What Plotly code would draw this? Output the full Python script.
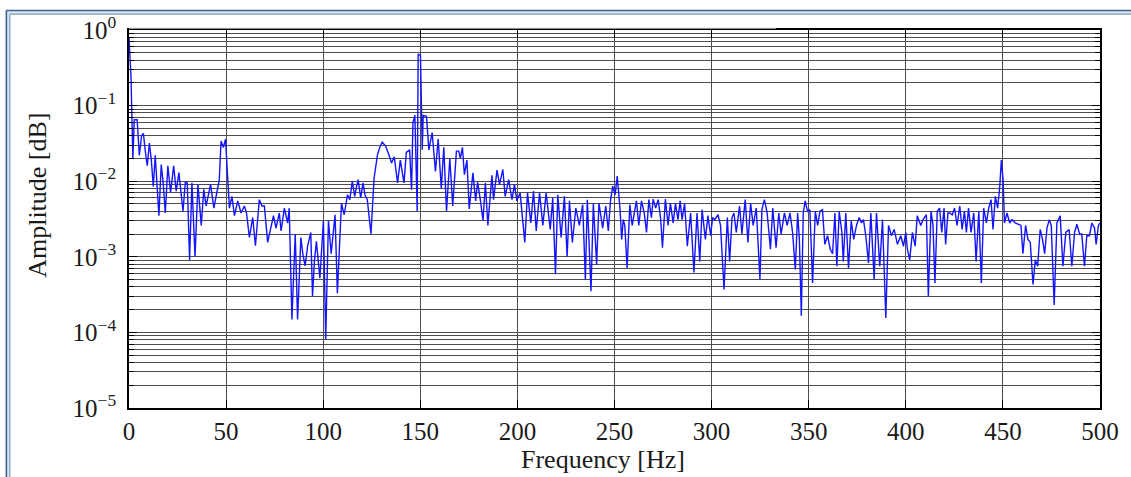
import plotly.graph_objects as go

# ---------------- data ----------------
freq_hz = [
    0, 1, 2, 2.7, 4.2, 5.3, 6.5, 7.4, 8.4, 9.4, 10.5, 11.5, 12.5, 13.5, 15.4, 16.6, 17.6, 18.7,
    20.0, 21.4, 23.0, 24.3, 25.7, 27.8, 29.0, 30.0, 31.2, 32.4, 34.0, 35.5, 37.2, 38.5, 39.7,
    41.0, 42.0, 43.7, 45.4, 46.5, 47.4, 48.6, 49.7, 50.7, 51.7, 53.0, 54.3, 56.0, 57.7, 59.4,
    60.5, 62.0, 63.7, 65.1, 67.1, 68.5, 69.7, 71.4, 73.1, 74.4, 75.7, 77.4, 78.3, 80.0, 81.7, 82.5,
    83.9, 85.6, 86.8, 88.5, 89.5, 90.7, 92.0, 93.6, 94.5, 95.5, 96.5, 98.3, 100.1, 101.3, 102.7,
    104.1, 106.1, 107.3, 109.4, 110.8, 112.5, 113.7, 115.0, 116.2, 117.2, 118.0, 119.3, 120.5,
    121.5, 122.7, 124.6, 126.2, 127.9, 129.1, 130.4, 132.2, 133.9, 135.2, 136.6, 138.3, 139.7,
    141.6, 142.8, 144.5, 145.5, 146.2, 147.2, 148.4, 148.9, 150.1, 151.0, 151.5, 153.2, 154.4,
    156.1, 157.8, 159.2, 160.8, 162.1, 163.5, 165.2, 166.7, 168.6,
    169.8, 170.6, 171.7, 172.7, 174.0, 175.2, 177.1, 178.5, 179.5, 180.9, 182.3, 183.5, 184.8,
    186.9, 187.7, 189.5, 190.8, 192.5, 193.7, 195.5, 197.2, 198.5, 199.7, 201.4, 203.8, 205.2,
    206.9, 208.3, 209.7, 211.4, 213.1, 214.8, 216.9, 218.2, 219.6, 220.8, 222.5, 224.2, 225.6,
    226.8, 228.3, 230.1, 231.9, 233.6, 235.0, 236.0, 237.9, 239.1, 240.8, 242.0, 243.9, 245.5,
    246.8, 248.0, 249.1, 250.3, 251.4, 252.8, 253.7,
    254.5, 255.3, 256.5, 257.9, 259.1, 260.1, 261.3, 262.5, 263.9, 265.3, 266.5, 267.7, 269.0,
    269.9, 271.2, 272.5, 273.8, 274.7, 276.2, 277.6, 278.8, 280.2, 281.4, 282.7, 283.8, 284.8,
    286.1, 287.5, 289.2, 290.9, 292.5, 293.9, 295.1, 296.8, 298.1, 299.5, 300.5, 301.6, 303.3,
    304.6, 306.4, 308.1, 309.3, 310.5, 311.5, 312.7, 314.4, 315.6, 317.3, 318.7, 320.1, 321.4,
    323.0, 324.9, 325.9, 327.2, 328.6, 330.3, 331.5, 333.2, 334.6, 335.8, 337.5, 338.9,
    340.4, 341.7, 343.1, 344.3, 345.2, 346.2, 347.2, 348.2, 349.4, 350.6, 352.0, 353.4, 354.6,
    355.8, 357.1, 358.3, 359.7, 361.1, 362.3, 363.5, 364.5, 365.7, 367.1, 367.8, 369.1, 370.5,
    371.9, 373.2, 374.6, 376.0, 377.2, 378.2, 379.4, 380.8, 382.0, 383.7, 384.9, 386.6, 388.0,
    389.7, 391.1, 392.6, 394.0, 395.7, 397.4, 398.8, 400.0, 400.8, 402.0, 403.4, 404.8, 405.9,
    407.7, 408.9, 410.6, 411.6, 413.0, 414.0, 415.0, 416.2, 417.4, 418.5, 419.7, 420.5, 421.7,
    422.7, 423.9, 425.1, 426.4, 427.8, 429.0, 430.2, 431.2, 432.3, 433.6, 435.0, 436.2, 437.6,
    438.9, 440.1, 441.5, 442.7, 443.9, 444.9, 446.1, 447.3, 448.4, 449.2, 450.1, 450.8, 452.1,
    453.5, 454.7, 456.4, 458.1, 459.3, 460.3, 461.7, 462.9, 464.1, 465.5, 466.7, 467.9, 469.2,
    470.4, 471.5, 472.7, 473.9, 474.9, 476.4, 477.8, 479.5, 480.9, 482.4, 484.1, 485.5, 486.9,
    488.1, 489.5, 490.6, 492.0, 493.2, 494.6, 495.8, 497.2, 498.0, 499.2, 500.0,
]

amplitude = [
    0.8, 0.25, 0.020, 0.065, 0.065, 0.022, 0.040, 0.043, 0.025, 0.016, 0.032, 0.019, 0.0085, 0.022, 0.0035, 0.0166, 0.0095, 0.0038,
    0.016, 0.0071, 0.016, 0.0074, 0.013, 0.0040, 0.0097, 0.0095, 0.00091, 0.0095, 0.0010, 0.0091, 0.0026, 0.0078, 0.0047,
    0.0070, 0.0091, 0.0044, 0.0078, 0.0105, 0.034, 0.028, 0.036, 0.0117, 0.0044, 0.0063, 0.0035, 0.0055, 0.0038, 0.0047,
    0.0038, 0.0018, 0.0033, 0.0014, 0.0057, 0.0047, 0.0047, 0.00155, 0.0024, 0.0035, 0.0024, 0.0038, 0.0022, 0.0044, 0.0028, 0.0044,
    0.000148, 0.0020, 0.000148, 0.0018, 0.0011, 0.00076, 0.0014, 0.0021, 0.00030, 0.0009, 0.0016, 0.00052, 0.0030, 0.000081, 0.0030,
    0.0011, 0.0036, 0.00033, 0.0051, 0.0036, 0.0066, 0.0057, 0.0100, 0.0063, 0.0086, 0.0105, 0.0060, 0.0095,
    0.0066, 0.0057, 0.0020, 0.011, 0.022, 0.028, 0.033, 0.029, 0.022, 0.0174, 0.021, 0.0095, 0.019,
    0.0095, 0.024, 0.026, 0.0077, 0.059, 0.075, 0.0040, 0.48, 0.46, 0.026, 0.074, 0.072, 0.026,
    0.044, 0.0135, 0.036, 0.0081, 0.028, 0.0040, 0.020, 0.0047, 0.025,
    0.025, 0.020, 0.028, 0.0122, 0.019, 0.0043, 0.0129, 0.0055, 0.0097, 0.0057, 0.0030, 0.0095, 0.0026,
    0.012, 0.0057, 0.014, 0.0091, 0.0143, 0.0063, 0.0105, 0.0057, 0.0091, 0.0055, 0.0070, 0.00155, 0.0070,
    0.0028, 0.0074, 0.0022, 0.0070, 0.0026, 0.0070, 0.0023, 0.0060, 0.00059, 0.0066, 0.0018, 0.0063, 0.0010,
    0.0055, 0.00155, 0.0044, 0.0026, 0.0049, 0.00050, 0.0057, 0.00035, 0.0051, 0.00079, 0.0051, 0.0024, 0.0047,
    0.0022, 0.0057, 0.0086, 0.0066, 0.0117, 0.0044, 0.0017,
    0.0031, 0.0026, 0.00071, 0.0049, 0.0026, 0.0035, 0.0055, 0.0026, 0.0055, 0.0038, 0.0021, 0.0057, 0.0033,
    0.0058, 0.0044, 0.0057, 0.0031, 0.00132, 0.0058, 0.0026, 0.0051, 0.0028, 0.0051, 0.0031, 0.0055, 0.0031,
    0.0051, 0.00138, 0.0038, 0.00062, 0.0038, 0.00087, 0.0042, 0.0017, 0.0035, 0.0019, 0.0033, 0.0031, 0.0036,
    0.0026, 0.00037, 0.0033, 0.00087, 0.0033, 0.0038, 0.0021, 0.0047, 0.0020, 0.0057, 0.00155, 0.0051, 0.0026,
    0.0044, 0.00050, 0.0042, 0.0057, 0.0038, 0.00126, 0.0044, 0.00132, 0.0038, 0.0020, 0.0038, 0.0026,
    0.0038, 0.0021, 0.00068, 0.0038, 0.0017, 0.000166, 0.0038, 0.0055, 0.0040, 0.0042, 0.00045, 0.0040, 0.0026,
    0.0040, 0.0042, 0.00146, 0.0019, 0.00126, 0.0011, 0.0038, 0.00075, 0.0040, 0.0021, 0.00087, 0.0038, 0.00071,
    0.0030, 0.0017, 0.0026, 0.0033, 0.0028, 0.0031, 0.0019, 0.00083, 0.0038, 0.00050, 0.0038, 0.00075, 0.0031,
    0.000155, 0.0026, 0.0019, 0.0023, 0.00146, 0.0019, 0.00138, 0.0021, 0.00126, 0.00091, 0.0021, 0.00138, 0.0035,
    0.0026, 0.0031, 0.0036, 0.00030, 0.0040, 0.0026, 0.00045, 0.0040, 0.0044, 0.0021, 0.0044, 0.00146, 0.0038,
    0.0038, 0.0036, 0.0044, 0.0026, 0.0047, 0.0023, 0.0040, 0.0021, 0.0044, 0.0021, 0.0038, 0.00087, 0.0040,
    0.00045, 0.0044, 0.0028, 0.0044, 0.0057, 0.0023, 0.0063, 0.0044, 0.0086, 0.019, 0.0105, 0.0028, 0.0038,
    0.0028, 0.0031, 0.0028, 0.0027, 0.0026, 0.0011, 0.0026, 0.0017, 0.00155, 0.00043, 0.00091, 0.00075, 0.0023,
    0.0017, 0.0011, 0.0024, 0.0031, 0.0026, 0.00023, 0.0028, 0.0035, 0.00075, 0.0021, 0.0023, 0.00075, 0.0021,
    0.0027, 0.0020, 0.0020, 0.00075, 0.0019, 0.0019, 0.0028, 0.0024, 0.00146, 0.0026, 0.0028,
]

x_tick_values = [0, 50, 100, 150, 200, 250, 300, 350, 400, 450, 500]
y_tick_values = [1e-5, 1e-4, 1e-3, 1e-2, 1e-1, 1e0]
y_tick_labels = ["10<sup>\u22125</sup>", "10<sup>\u22124</sup>", "10<sup>\u22123</sup>",
                 "10<sup>\u22122</sup>", "10<sup>\u22121</sup>", "10<sup>0</sup>"]
x_title = "Frequency [Hz]"
y_title = "Amplitude [dB]"

# ---------------- layout constants ----------------
W, H = 1131, 477
L, R, T, B = 129, 28, 29, 69
PW, PH = W - L - R, H - T - B
FONT = "Liberation Serif, Times New Roman, serif"
GRID = "#4d4d4d"


def px2x(px):
    return (px - L) / PW


def py2y(py):
    return (H - B - py) / PH


minor_vals = [m * 10.0 ** e for e in range(-5, 0) for m in range(2, 10)]

fig = go.Figure()
fig.add_trace(go.Scatter(x=freq_hz, y=amplitude, mode="lines",
                         line=dict(color="#1414ff", width=1.4), hoverinfo="x+y"))

axis_common = dict(showline=True, linecolor="black", linewidth=1.6, mirror="allticks",
                   ticks="inside", tickcolor="black", zeroline=False,
                   showgrid=True, gridcolor=GRID, gridwidth=1,
                   tickfont=dict(family=FONT, size=25, color="#1a1a1a"))

fig.update_xaxes(range=[0, 500], tickmode="array", tickvals=x_tick_values,
                 ticklen=8, tickwidth=1.2, **axis_common)
fig.update_yaxes(type="log", range=[-5, 0], tickmode="array", tickvals=y_tick_values,
                 ticktext=y_tick_labels, ticklen=8, tickwidth=1.2, ticklabelstandoff=6,
                 minor=dict(tickmode="array", tickvals=minor_vals, ticks="inside", ticklen=5,
                            tickcolor="black", showgrid=True, gridcolor=GRID, gridwidth=1),
                 **axis_common)

shapes = []
# window-like double frame (top and left)
shapes.append(dict(type="rect", xref="paper", yref="paper",
                   x0=px2x(6), x1=px2x(W + 5), y0=py2y(13), y1=py2y(9.5),
                   line=dict(width=0), fillcolor="#dbe5f1", layer="below"))
shapes.append(dict(type="rect", xref="paper", yref="paper",
                   x0=px2x(6), x1=px2x(9.5), y0=py2y(H + 5), y1=py2y(9.5),
                   line=dict(width=0), fillcolor="#dbe5f1", layer="below"))
shapes.append(dict(type="line", xref="paper", yref="paper",
                   x0=px2x(6), x1=px2x(W + 5), y0=py2y(9.5), y1=py2y(9.5),
                   line=dict(color="#3d6592", width=1.6)))
shapes.append(dict(type="line", xref="paper", yref="paper",
                   x0=px2x(9.5), x1=px2x(W + 5), y0=py2y(13), y1=py2y(13),
                   line=dict(color="#7e9cbf", width=1.2)))
shapes.append(dict(type="line", xref="paper", yref="paper",
                   x0=px2x(6), x1=px2x(6), y0=py2y(9.5), y1=py2y(H + 5),
                   line=dict(color="#3d6592", width=1.6)))
shapes.append(dict(type="line", xref="paper", yref="paper",
                   x0=px2x(9.5), x1=px2x(9.5), y0=py2y(13), y1=py2y(H + 5),
                   line=dict(color="#7e9cbf", width=1.2)))
# faint line above the top axis
shapes.append(dict(type="line", xref="paper", yref="paper",
                   x0=0, x1=px2x(778), y0=py2y(27.3), y1=py2y(27.3),
                   line=dict(color="#b5b5b5", width=1)))

annotations = [
    dict(text=x_title, xref="paper", yref="paper", x=px2x(604), y=py2y(460),
         xanchor="center", yanchor="middle", showarrow=False,
         font=dict(family=FONT, size=26, color="#1a1a1a")),
    dict(text=y_title, xref="paper", yref="paper", x=px2x(37), y=py2y(195),
         xanchor="center", yanchor="middle", showarrow=False, textangle=-90,
         font=dict(family=FONT, size=26, color="#1a1a1a")),
]

fig.update_layout(width=W, height=H, margin=dict(l=L, r=R, t=T, b=B),
                  paper_bgcolor="white", plot_bgcolor="white", showlegend=False,
                  shapes=shapes, annotations=annotations)

fig.write_html("out.html", config={"displayModeBar": False},
               post_script="document.body.style.margin='0px';"
                           "document.body.style.overflow='hidden';")
